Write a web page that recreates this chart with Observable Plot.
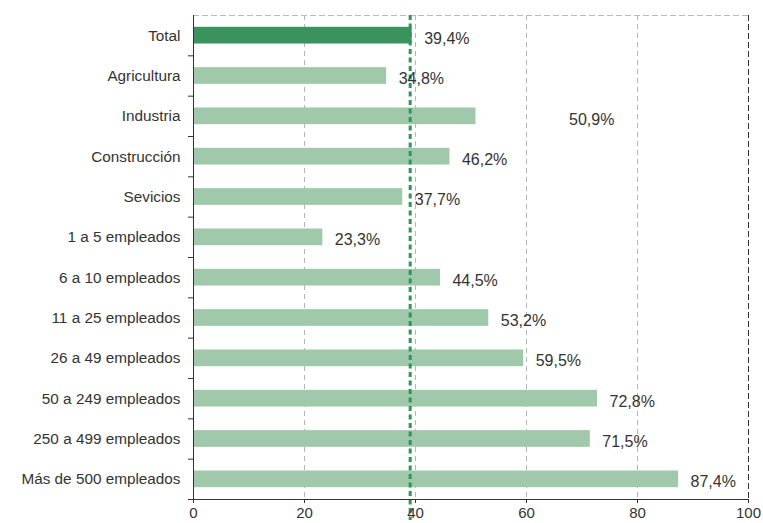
<!DOCTYPE html>
<html>
<head>
<meta charset="utf-8">
<script src="https://cdn.jsdelivr.net/npm/d3@7"></script>
<script src="https://cdn.jsdelivr.net/npm/@observablehq/plot@0.6"></script>
<style>
  html, body { margin: 0; padding: 0; background: #fff; }
  #chart svg { display: block; }
</style>
</head>
<body>
<div id="chart"></div>
<script>
const categories = [
  "Total", "Agricultura", "Industria", "Construcción", "Sevicios",
  "1 a 5 empleados", "6 a 10 empleados", "11 a 25 empleados", "26 a 49 empleados",
  "50 a 249 empleados", "250 a 499 empleados", "Más de 500 empleados"
];
const values = [39.4, 34.8, 50.9, 46.2, 37.7, 23.3, 44.5, 53.2, 59.5, 72.8, 71.5, 87.4];
const xTicks = [0, 20, 40, 60, 80, 100];
const referenceValue = 39.4;

const data = categories.map((c, i) => ({cat: c, value: values[i]}));
const fmt = v => v.toFixed(1).replace(".", ",") + "%";

const W = 763, H = 523, mT = 15, mB = 24, mL = 193, mR = 15;
const step = (H - mT - mB) / categories.length;

const chart = Plot.plot({
  width: W,
  height: H,
  marginTop: mT,
  marginBottom: mB,
  marginLeft: mL,
  marginRight: mR,
  style: {fontFamily: "'Liberation Sans', Arial, sans-serif", fontSize: "15px", color: "#333", background: "#fff"},
  x: {domain: [0, 100], label: null},
  y: {domain: categories, paddingInner: 0.586, paddingOuter: 0.293, round: false, label: null},
  marks: [
    Plot.ruleX(xTicks.filter(t => t > 0 && t < 100), {stroke: "#b5b5b5", strokeDasharray: "5,4", strokeWidth: 1}),
    Plot.frame({anchor: "top", stroke: "#bbbbbb", strokeDasharray: "5,4"}),
    Plot.frame({anchor: "right", stroke: "#333", strokeDasharray: "5,4"}),
    Plot.barX(data, {x: "value", y: "cat", fill: d => d.cat === "Total" ? "#3a925d" : "#a0c8aa"}),
    Plot.ruleX([referenceValue], {stroke: "#2f9558", strokeWidth: 3, strokeDasharray: "5,3.5", dx: -2, insetBottom: -21}),
    Plot.frame({anchor: "left", stroke: "#333"}),
    Plot.frame({anchor: "bottom", stroke: "#333"}),
    Plot.ruleY(categories, {x1: -0.9, x2: 0, dy: step / 2, stroke: "#333"}),
    Plot.axisY({tickSize: 0, tickPadding: 13, fontSize: 15.3, fill: "#333"}),
    Plot.axisX({ticks: xTicks, tickSize: 4, tickPadding: 4, fontSize: 15, fill: "#333", stroke: "#333", label: null}),
    Plot.text(data.filter(d => d.cat !== "Industria"), {x: "value", y: "cat", text: d => fmt(d.value), textAnchor: "start", dx: 12, dy: 3, fontSize: 16, fill: "#333"}),
    Plot.text(data.filter(d => d.cat === "Industria"), {x: "value", y: "cat", text: d => fmt(d.value), textAnchor: "start", dx: 93, dy: 4, fontSize: 16, fill: "#333"})
  ]
});
document.getElementById("chart").appendChild(chart);
</script>
</body>
</html>
